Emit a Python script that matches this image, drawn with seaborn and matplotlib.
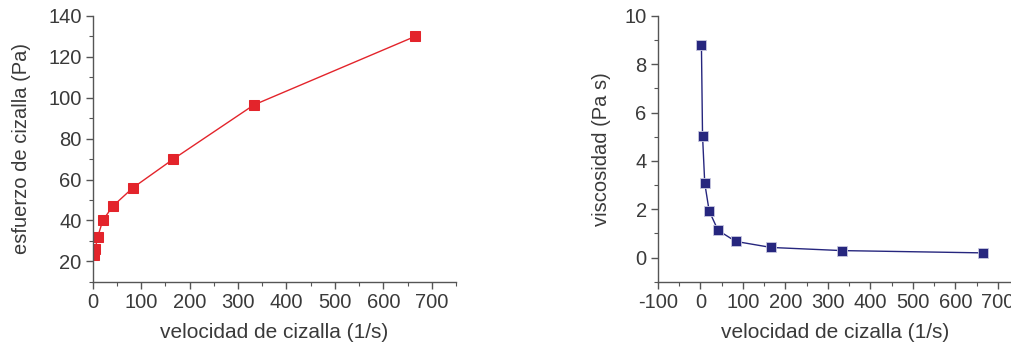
import matplotlib
matplotlib.use("Agg")
import matplotlib.pyplot as plt
from matplotlib.ticker import MultipleLocator
import seaborn as sns

sns.set_style("ticks")
plt.rcParams['font.family'] = ['Liberation Sans', 'DejaVu Sans']
plt.rcParams['axes.unicode_minus'] = False

# shear rate (1/s)
shear_rate = [2.6, 5.2, 10.4, 20.8, 41.6, 83.2, 166.4, 332.8, 665.6]
# shear stress (Pa)
shear_stress = [23.0, 26.2, 32.0, 40.0, 47.0, 56.0, 70.0, 96.5, 130.0]
# viscosity (Pa s)
viscosity = [8.8, 5.05, 3.08, 1.93, 1.13, 0.67, 0.42, 0.29, 0.195]

text_col = "#3a3a3a"
red = "#e3242b"
navy = "#26267e"

fig = plt.figure(figsize=(10.12, 3.47), dpi=100)
ax1 = fig.add_axes([0.0916, 0.188, 0.359, 0.766])
ax2 = fig.add_axes([0.650, 0.188, 0.350, 0.766])

sns.lineplot(x=shear_rate, y=shear_stress, ax=ax1, color=red, marker="s",
             markersize=6.5, markeredgecolor=red, linewidth=1)
sns.lineplot(x=shear_rate, y=viscosity, ax=ax2, color=navy, marker="s",
             markersize=6.5, markeredgecolor="#c8c8e0", markeredgewidth=0.6,
             linewidth=1)

ax1.set_xlim(0, 750)
ax1.set_ylim(10, 140)
ax1.xaxis.set_minor_locator(MultipleLocator(50))
ax1.yaxis.set_minor_locator(MultipleLocator(10))
ax1.set_xticks(range(0, 701, 100))
ax1.set_yticks(range(20, 141, 20))
ax1.set_xlabel("velocidad de cizalla (1/s)", fontsize=15, color=text_col, labelpad=8)
ax1.set_ylabel("esfuerzo de cizalla (Pa)", fontsize=14.5, color=text_col, labelpad=12)

ax2.set_xlim(-100, 733)
ax2.set_ylim(-1, 10)
ax2.xaxis.set_minor_locator(MultipleLocator(50))
ax2.yaxis.set_minor_locator(MultipleLocator(1))
ax2.set_xticks(range(-100, 701, 100))
ax2.set_yticks(range(0, 11, 2))
ax2.set_xlabel("velocidad de cizalla (1/s)", fontsize=15, color=text_col, labelpad=8)
ax2.set_ylabel("viscosidad (Pa s)", fontsize=14.5, color=text_col, labelpad=10)

for ax in (ax1, ax2):
    sns.despine(ax=ax)
    for s in ("left", "bottom"):
        ax.spines[s].set_color("#555555")
        ax.spines[s].set_linewidth(1)
    ax.tick_params(which="major", direction="out", length=5, width=1,
                   color="#555555", labelsize=14.5, labelcolor=text_col, pad=3)
    ax.tick_params(which="minor", direction="out", length=3, width=0.8,
                   color="#555555")

fig.savefig("out.png", dpi=100)
